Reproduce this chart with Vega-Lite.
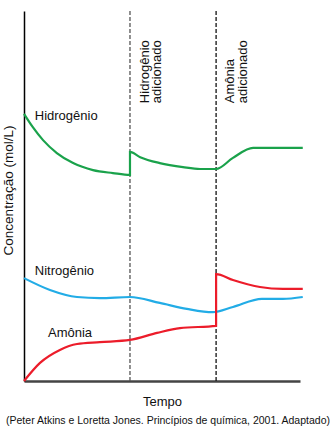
{
  "$schema": "https://vega.github.io/schema/vega-lite/v6.json",
  "width": 276,
  "height": 370,
  "autosize": {"type": "none"},
  "padding": {"left": 24, "top": 11, "right": 32, "bottom": 53},
  "background": "white",
  "config": {
    "view": {"stroke": null},
    "font": "Liberation Sans"
  },
  "title": {
    "text": "(Peter Atkins e Loretta Jones. Princípios de química, 2001. Adaptado)",
    "orient": "bottom",
    "anchor": "middle",
    "fontSize": 10.5,
    "fontWeight": "normal",
    "font": "Liberation Sans",
    "color": "#111111",
    "offset": 8,
    "dx": 6
  },
  "datasets": {
    "curves": [
      {"s": "H", "i": 0, "t": 0, "v": 72.2},
      {"s": "H", "i": 1, "t": 3.2, "v": 68.6},
      {"s": "H", "i": 2, "t": 6.9, "v": 65.1},
      {"s": "H", "i": 3, "t": 11.9, "v": 61.6},
      {"s": "H", "i": 4, "t": 17.8, "v": 58.9},
      {"s": "H", "i": 5, "t": 25.0, "v": 57.0},
      {"s": "H", "i": 6, "t": 32.2, "v": 56.2},
      {"s": "H", "i": 7, "t": 38.4, "v": 55.7},
      {"s": "H", "i": 8, "t": 38.4, "v": 61.9},
      {"s": "H", "i": 9, "t": 42.1, "v": 60.5},
      {"s": "H", "i": 10, "t": 49.2, "v": 58.9},
      {"s": "H", "i": 11, "t": 57.6, "v": 57.8},
      {"s": "H", "i": 12, "t": 63.8, "v": 57.3},
      {"s": "H", "i": 13, "t": 69.6, "v": 57.3},
      {"s": "H", "i": 14, "t": 75.7, "v": 60.3},
      {"s": "H", "i": 15, "t": 83.0, "v": 63.0},
      {"s": "H", "i": 16, "t": 101, "v": 63.0},
      {"s": "N", "i": 0, "t": 0, "v": 27.8},
      {"s": "N", "i": 1, "t": 9.4, "v": 24.6},
      {"s": "N", "i": 2, "t": 19.2, "v": 22.7},
      {"s": "N", "i": 3, "t": 27.5, "v": 22.4},
      {"s": "N", "i": 4, "t": 38.4, "v": 22.7},
      {"s": "N", "i": 5, "t": 49.2, "v": 21.1},
      {"s": "N", "i": 6, "t": 59.0, "v": 19.5},
      {"s": "N", "i": 7, "t": 68.4, "v": 18.6},
      {"s": "N", "i": 8, "t": 75.7, "v": 20.0},
      {"s": "N", "i": 9, "t": 86.2, "v": 22.2},
      {"s": "N", "i": 10, "t": 93.8, "v": 22.2},
      {"s": "N", "i": 11, "t": 101, "v": 22.7},
      {"s": "A", "i": 0, "t": 0, "v": 0},
      {"s": "A", "i": 1, "t": 5.8, "v": 4.9},
      {"s": "A", "i": 2, "t": 13.0, "v": 8.4},
      {"s": "A", "i": 3, "t": 19.2, "v": 10.0},
      {"s": "A", "i": 4, "t": 27.5, "v": 10.5},
      {"s": "A", "i": 5, "t": 38.4, "v": 11.1},
      {"s": "A", "i": 6, "t": 48.2, "v": 13.0},
      {"s": "A", "i": 7, "t": 56.5, "v": 14.3},
      {"s": "A", "i": 8, "t": 69.6, "v": 14.9},
      {"s": "A", "i": 9, "t": 69.6, "v": 28.9},
      {"s": "A", "i": 10, "t": 75.7, "v": 27.3},
      {"s": "A", "i": 11, "t": 85.5, "v": 25.4},
      {"s": "A", "i": 12, "t": 93.8, "v": 24.9},
      {"s": "A", "i": 13, "t": 101, "v": 24.9}
    ],
    "events": [
      {"t": 38.4, "c": "#555555"},
      {"t": 69.6, "c": "#111111"}
    ],
    "labels": [
      {"t": 3.9, "v": 71.6, "txt": "Hidrogênio"},
      {"t": 3.9, "v": 29.7, "txt": "Nitrogênio"},
      {"t": 8.7, "v": 13.0, "txt": "Amônia"}
    ],
    "vlabels": [
      {"t": 43.9, "v": 75.1, "txt": "Hidrogênio"},
      {"t": 48.2, "v": 75.1, "txt": "adicionado"},
      {"t": 74.6, "v": 75.1, "txt": "Amônia"},
      {"t": 79.3, "v": 75.1, "txt": "adicionado"}
    ]
  },
  "layer": [
    {
      "data": {"name": "events"},
      "mark": {"type": "rule", "strokeDash": [4, 2], "strokeWidth": 1.3},
      "encoding": {
        "x": {"field": "t", "type": "quantitative", "scale": {"domain": [0, 100]}},
        "color": {"field": "c", "type": "nominal", "scale": null}
      }
    },
    {
      "data": {"name": "curves"},
      "mark": {"type": "line", "interpolate": "monotone", "strokeWidth": 2.2},
      "encoding": {
        "x": {
          "field": "t", "type": "quantitative",
          "scale": {"domain": [0, 100], "nice": false, "zero": false},
          "axis": {
            "title": "Tempo", "labels": false, "ticks": false, "grid": false,
            "domainColor": "#444444", "domainWidth": 2.5,
            "titleFontSize": 13, "titleFontWeight": "normal", "titleColor": "#111111",
            "titlePadding": 14, "titleFont": "Liberation Sans"
          }
        },
        "y": {
          "field": "v", "type": "quantitative",
          "scale": {"domain": [0, 100], "nice": false},
          "axis": {
            "title": "Concentração (mol/L)", "labels": false, "ticks": false, "grid": false,
            "domainColor": "#000000", "domainWidth": 1.5,
            "titleFontSize": 13.5, "titleFontWeight": "normal", "titleColor": "#111111",
            "titlePadding": 9, "titleY": 179, "titleFont": "Liberation Sans"
          }
        },
        "order": {"field": "i", "type": "quantitative"},
        "detail": {"field": "s", "type": "nominal"},
        "color": {
          "field": "s", "type": "nominal",
          "scale": {"domain": ["H", "N", "A"], "range": ["#1aa24b", "#22ace6", "#ec1c2a"]},
          "legend": null
        }
      }
    },
    {
      "data": {"name": "labels"},
      "mark": {"type": "text", "align": "left", "baseline": "middle", "fontSize": 13, "font": "Liberation Sans", "color": "#111111"},
      "encoding": {
        "x": {"field": "t", "type": "quantitative"},
        "y": {"field": "v", "type": "quantitative"},
        "text": {"field": "txt"}
      }
    },
    {
      "data": {"name": "vlabels"},
      "mark": {"type": "text", "align": "left", "baseline": "middle", "angle": 270, "fontSize": 13, "font": "Liberation Sans", "color": "#111111"},
      "encoding": {
        "x": {"field": "t", "type": "quantitative"},
        "y": {"field": "v", "type": "quantitative"},
        "text": {"field": "txt"}
      }
    }
  ]
}
